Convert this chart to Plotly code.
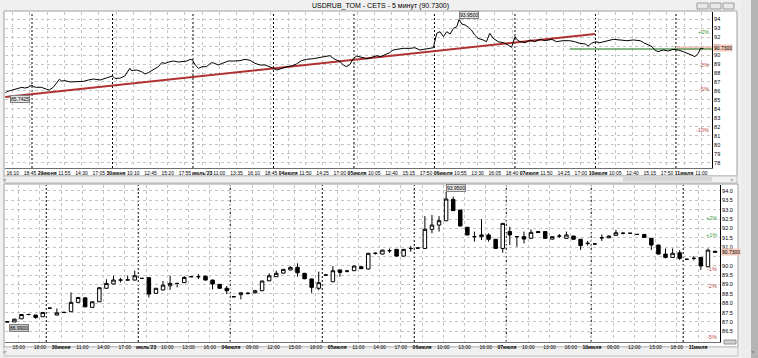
import plotly.graph_objects as go

W, H = 758, 358
FONT = "Liberation Sans Narrow, Liberation Sans, Arial, sans-serif"

# ---------------- top panel: 5-minute line (bar number, 144 bars per session) ----------------
line_bar = [-48, -45, -39, -30, -24, -18, -13, -7, 0, 2, 8, 17, 26, 31, 38, 44, 49, 53, 59, 68,
            80, 92, 101, 110, 122, 131, 140, 144, 148, 157, 166, 172, 175, 178, 187, 196, 202, 208,
            217, 226, 232, 238, 247, 253, 262, 271, 277, 283, 287, 292, 298, 304, 312, 321, 327,
            333, 342, 351, 360, 372, 381, 390, 399, 408, 417, 426, 432, 438, 447, 456, 465, 473,
            482, 491, 503, 515, 524, 533, 539, 545, 551, 557, 563, 569, 575, 581, 590, 599, 608,
            617, 623, 631, 640, 646, 655, 664, 676, 685, 694, 703, 712, 718, 724, 730, 736, 742,
            748, 754, 760, 764, 769, 775, 781, 786, 792, 798, 807, 813, 819, 825, 834, 843, 852,
            858, 864, 867, 873, 882, 891, 899, 909, 918, 930, 938, 950, 962, 971, 980, 990, 995,
            1001, 1008, 1016, 1028, 1040, 1052, 1064, 1076, 1088, 1094, 1103, 1109, 1114, 1120,
            1129, 1138, 1147, 1156, 1165, 1174, 1180, 1186, 1192, 1196, 1201]
line_price = [85.7425, 85.93, 86.04, 86.19, 86.30, 86.41, 86.33, 86.41, 86.67, 86.48, 86.41, 86.41,
              86.19, 86.11, 86.41, 86.85, 87.30, 87.11, 87.15, 87.00, 87.04, 87.07, 87.22, 87.33,
              87.22, 87.37, 87.52, 87.67, 87.41, 87.41, 87.67, 88.33, 88.52, 88.26, 88.33, 88.15,
              87.89, 88.04, 88.33, 88.70, 89.15, 89.07, 89.26, 89.33, 89.22, 89.30, 89.33, 89.52,
              89.44, 88.89, 88.52, 88.70, 88.70, 89.15, 89.07, 88.89, 89.07, 89.33, 89.33, 89.37,
              89.52, 89.41, 89.07, 88.89, 88.89, 88.70, 88.52, 88.33, 88.52, 88.70, 88.78, 89.00,
              89.37, 89.52, 89.59, 89.74, 89.81, 89.93, 89.63, 89.44, 89.26, 88.89, 88.70, 88.96,
              89.63, 89.89, 89.74, 89.59, 89.74, 89.93, 89.81, 90.00, 90.26, 90.56, 90.63, 90.74,
              90.74, 90.81, 90.56, 90.63, 90.74, 90.81, 92.41, 92.59, 92.04, 92.59, 92.33, 92.96,
              93.15, 93.95, 93.44, 93.33, 93.07, 92.78, 92.22, 91.85, 91.67, 91.48, 92.41, 91.85,
              91.48, 91.37, 91.11, 90.85, 92.04, 91.74, 91.48, 91.37, 91.67, 91.48, 91.74, 91.59,
              91.74, 91.48, 91.59, 91.59, 91.48, 91.30, 91.22, 91.00, 91.30, 91.48, 91.37, 91.59,
              91.74, 91.67, 91.59, 91.67, 91.59, 91.37, 91.11, 90.93, 90.56, 90.37, 90.56, 90.44,
              90.63, 90.56, 90.37, 90.19, 90.00, 89.81, 90.19, 90.74, 90.73]
trend_bar = [-48, 1007]
trend_price = [85.33, 92.33]
support_bar = [962, 1216]
support_price = [90.67, 90.67]
top_day_start = [0, 144, 288, 432, 576, 720, 864, 1008, 1152]
top_tick_text = ["16:10", "18:45", "<b>29июня</b>", "11:55", "14:30", "17:05", "<b>30июня</b>", "10:10",
                 "12:45", "15:20", "17:55", "<b>июль'23</b>", "11:00", "13:35", "16:10", "18:45",
                 "<b>04июля</b>", "11:50", "14:25", "17:00", "<b>05июля</b>", "10:05", "12:40", "15:15",
                 "17:50", "<b>06июля</b>", "10:55", "13:30", "16:05", "18:40", "<b>07июля</b>", "11:50",
                 "14:25", "17:00", "<b>10июля</b>", "10:05", "12:40", "15:15", "17:50", "<b>11июля</b>",
                 "11:00"]
TOP_TICK0, TOP_TICK_STEP = -34.5, 30.8
top_price_ticks = list(range(78, 95))
top_pct_levels = [2, -2, -5, -10]

# ---------------- bottom panel: hourly candles ----------------
c_open = [87.02, 87.00, 87.17, 87.40, 87.37, 87.28,
          87.74, 87.37, 87.51, 87.55, 88.05, 88.29, 87.78, 88.08, 88.80, 89.03, 89.24, 89.24, 89.24,
          89.33, 89.37, 88.53, 88.71, 88.93, 89.06, 89.10, 89.42, 89.42, 89.45, 89.24, 89.01, 88.80,
          88.35, 88.46, 88.53, 88.56, 88.67, 89.20, 89.42, 89.61, 89.78, 89.92, 89.60, 89.30, 88.80,
          89.51, 89.15, 89.78, 89.72, 89.74, 89.95, 89.83, 90.67, 90.63, 90.81, 90.88, 90.52, 90.93,
          90.95, 90.93, 91.95, 92.18, 92.41, 93.55, 92.98, 92.06, 91.56, 91.56, 91.65, 91.42, 90.93,
          91.83, 91.56, 91.56, 91.47, 91.83, 91.83, 91.43, 91.59, 91.47, 91.59, 91.42, 91.20,
          91.17, 91.50, 91.50, 91.63, 91.74, 91.74, 91.68, 91.68, 91.47, 91.11, 90.63, 90.45, 90.70,
          90.35, 90.40, 90.45, 89.95, 90.78]
c_high = [87.04, 87.17, 87.42, 87.44, 87.38, 87.53,
          87.76, 87.72, 87.55, 88.58, 88.33, 88.31, 88.10, 88.85, 89.28, 89.47, 89.36, 89.47, 89.74,
          89.35, 89.39, 88.82, 89.19, 89.47, 89.08, 89.45, 89.44, 89.56, 89.47, 89.26, 89.03, 88.92,
          88.37, 88.58, 88.60, 88.72, 89.21, 89.60, 89.74, 89.83, 89.97, 90.13, 89.62, 89.32, 89.69,
          89.53, 89.99, 89.80, 89.78, 90.01, 89.97, 90.69, 90.72, 90.86, 90.93, 90.90, 90.90, 91.06,
          90.97, 92.66, 92.72, 92.66, 93.95, 93.70, 93.00, 92.08, 91.83, 92.49, 91.74, 91.44, 92.29,
          92.09, 91.60, 91.83, 91.95, 91.85, 91.85, 91.58, 91.70, 91.83, 91.61, 91.44, 91.33,
          91.19, 91.68, 91.62, 91.92, 91.80, 91.76, 91.70, 91.70, 91.49, 91.13, 90.93, 90.93, 90.84,
          90.37, 90.52, 90.47, 90.93, 90.80]
c_low = [86.99, 87.00, 87.15, 87.36, 87.17, 87.27,
         87.72, 87.36, 87.47, 87.53, 88.03, 87.79, 87.76, 88.06, 88.78, 89.01, 89.11, 89.22, 89.22,
         89.31, 88.31, 88.51, 88.69, 88.71, 88.85, 89.08, 89.40, 89.29, 89.22, 88.74, 88.78, 88.49,
         88.33, 88.21, 88.46, 88.52, 88.65, 89.18, 89.40, 89.59, 89.76, 89.42, 89.29, 88.56, 88.70,
         89.49, 89.13, 89.42, 89.65, 89.72, 89.83, 89.81, 90.60, 90.61, 90.70, 90.50, 90.50, 90.76,
         90.93, 90.91, 91.74, 91.83, 92.39, 92.93, 92.11, 91.63, 91.29, 91.38, 91.29, 90.91, 90.70,
         91.11, 91.02, 91.20, 91.45, 91.76, 91.45, 91.41, 91.50, 91.45, 91.40, 90.85, 91.08,
         91.15, 91.33, 91.48, 91.61, 91.68, 91.72, 91.66, 91.50, 90.85, 90.61, 90.40, 90.43, 90.31,
         90.33, 90.29, 89.78, 89.93, 90.71]
c_close = [87.00, 87.15, 87.40, 87.40, 87.24, 87.51,
           87.74, 87.49, 87.51, 88.05, 88.31, 87.81, 88.08, 88.83, 89.06, 89.24, 89.24, 89.25, 89.47,
           89.33, 88.49, 88.80, 88.97, 89.06, 89.06, 89.38, 89.42, 89.42, 89.24, 89.03, 88.80, 88.67,
           88.35, 88.56, 88.53, 88.67, 89.19, 89.47, 89.60, 89.81, 89.92, 89.63, 89.31, 88.85, 89.10,
           89.51, 89.74, 89.65, 89.72, 89.99, 89.85, 90.67, 90.67, 90.84, 90.81, 90.52, 90.88, 90.93,
           90.95, 91.95, 92.18, 92.41, 93.57, 92.95, 92.13, 91.65, 91.56, 91.65, 91.42, 90.93, 92.27,
           91.65, 91.56, 91.43, 91.79, 91.78, 91.47, 91.56, 91.59, 91.65, 91.42, 91.08, 91.20,
           91.17, 91.50, 91.59, 91.77, 91.74, 91.74, 91.68, 91.52, 91.11, 90.63, 90.45, 90.67, 90.40,
           90.35, 90.40, 89.99, 90.84, 90.73]
candle_idx = list(range(len(c_open)))
bot_day_start = [5.5, 18.5, 31.5, 44.5, 57.5, 70.5, 82.5, 95.5]
bot_tick_text = ["15:00", "18:00", "<b>30июня</b>", "11:00", "14:00", "17:00", "<b>июль'23</b>", "10:00",
                 "13:00", "16:00", "<b>04июля</b>", "09:00", "12:00", "15:00", "18:00", "<b>05июля</b>",
                 "11:00", "14:00", "17:00", "<b>06июля</b>", "10:00", "13:00", "16:00", "<b>07июля</b>",
                 "10:00", "13:00", "16:00", "<b>10июля</b>", "09:00", "12:00", "15:00", "18:00",
                 "<b>11июля</b>"]
BOT_TICK0, BOT_TICK_STEP = 1.6, 3
bot_price_ticks = [86.5 + 0.5 * i for i in range(16)]
bot_pct_levels = [2, 1, -1, -2, -5]

LAST = c_close[-1]


def px(p):
    return p / W


def py(p):
    return 1 - p / H


fig = go.Figure()

# top traces
fig.add_trace(go.Scatter(x=trend_bar, y=trend_price, mode="lines",
                         line=dict(color="#b03232", width=2), xaxis="x", yaxis="y", hoverinfo="skip"))
fig.add_trace(go.Scatter(x=support_bar, y=support_price, mode="lines",
                         line=dict(color="#5f9f5f", width=1.5), xaxis="x", yaxis="y", hoverinfo="skip"))
fig.add_trace(go.Scatter(x=line_bar, y=line_price, mode="lines",
                         line=dict(color="black", width=1), xaxis="x", yaxis="y"))

# bottom candles
fig.add_trace(go.Candlestick(x=candle_idx, open=c_open, high=c_high, low=c_low, close=c_close,
                             increasing=dict(line=dict(color="black", width=1), fillcolor="white"),
                             decreasing=dict(line=dict(color="black", width=1), fillcolor="black"),
                             xaxis="x2", yaxis="y2"))

tickfont = dict(family=FONT, size=5, color="black")
ytickfont = dict(family=FONT, size=5.5, color="black")
grid = dict(showgrid=True, gridcolor="#c4c4c4", griddash="dot", gridwidth=1, zeroline=False)

top_tickvals = [TOP_TICK0 + k * TOP_TICK_STEP for k in range(len(top_tick_text))]
bot_tickvals = [BOT_TICK0 + k * BOT_TICK_STEP for k in range(len(bot_tick_text))]
# price-axis labels hidden behind the last-price tag
top_ytext = ["" if abs(v - LAST) < 0.2 else str(v) for v in top_price_ticks]
bot_ytext = ["" if abs(v - LAST) < 0.25 else f"{v:.1f}" for v in bot_price_ticks]

fig.update_layout(
    width=W, height=H, margin=dict(l=0, r=0, t=0, b=0, autoexpand=False),
    paper_bgcolor="#f0f0f0", plot_bgcolor="white", showlegend=False,
    font=dict(family=FONT, size=6, color="black"),
    xaxis=dict(domain=[px(5), px(712)], anchor="y", range=[-48.3, 1216.5],
               tickmode="array", tickvals=top_tickvals, ticktext=top_tick_text, tickangle=0,
               tickfont=tickfont, ticks="", showline=True, linecolor="#707070", automargin=False,
               fixedrange=True, **grid),
    yaxis=dict(domain=[py(168), py(12)], anchor="x", side="right", range=[77.44, 94.78],
               tickmode="array", tickvals=top_price_ticks, ticktext=top_ytext,
               tickfont=ytickfont, ticks="", showline=True, linecolor="black", automargin=False,
               fixedrange=True, **grid),
    xaxis2=dict(domain=[px(5), px(720)], anchor="y2", range=[-0.33, 100.7],
                tickmode="array", tickvals=bot_tickvals, ticktext=bot_tick_text, tickangle=0,
                tickfont=tickfont, ticks="", showline=True, linecolor="#707070", automargin=False,
                rangeslider=dict(visible=False), fixedrange=True, **grid),
    yaxis2=dict(domain=[py(342), py(185)], anchor="x2", side="right", range=[85.93, 94.32],
                tickmode="array", tickvals=bot_price_ticks, ticktext=bot_ytext,
                tickfont=ytickfont, ticks="", showline=True, linecolor="black", automargin=False,
                fixedrange=True, **grid),
)

shapes = []
# window frames
shapes.append(dict(type="rect", xref="paper", yref="paper", x0=px(4), x1=px(737), y0=py(176), y1=py(11),
                   fillcolor="white", line=dict(color="#a0a0a0", width=1), layer="below"))
shapes.append(dict(type="rect", xref="paper", yref="paper", x0=px(4), x1=px(737), y0=py(183), y1=py(176),
                   fillcolor="#f0f0f0", line=dict(color="#c0c0c0", width=1), layer="below"))
shapes.append(dict(type="rect", xref="paper", yref="paper", x0=px(623), x1=px(712), y0=py(181.5), y1=py(177),
                   fillcolor="#d6d6d6", line=dict(width=0), layer="below"))
shapes.append(dict(type="rect", xref="paper", yref="paper", x0=px(4), x1=px(738), y0=py(347), y1=py(184),
                   fillcolor="white", line=dict(color="#a0a0a0", width=1), layer="below"))
shapes.append(dict(type="rect", xref="paper", yref="paper", x0=px(4), x1=px(738), y0=py(356), y1=py(347),
                   fillcolor="#f0f0f0", line=dict(color="#c0c0c0", width=1), layer="below"))
shapes.append(dict(type="rect", xref="paper", yref="paper", x0=px(724), x1=px(736), y0=py(344), y1=py(340),
                   fillcolor="#d0d0d0", line=dict(color="#909090", width=1), layer="below"))
shapes.append(dict(type="rect", xref="paper", yref="paper", x0=px(741), x1=px(758), y0=0, y1=1,
                   fillcolor="#ececec", line=dict(width=0), layer="below"))
shapes.append(dict(type="rect", xref="paper", yref="paper", x0=px(751), x1=px(758), y0=0, y1=1,
                   fillcolor="#b4b4b4", line=dict(width=0), layer="below"))
for bx in (697, 710, 723):
    shapes.append(dict(type="rect", xref="paper", yref="paper", x0=px(bx), x1=px(bx + 11), y0=py(9), y1=py(3),
                       fillcolor="#e8e8e8", line=dict(color="#9a9a9a", width=1), layer="below"))

# last price band in top panel
shapes.append(dict(type="rect", xref="x", yref="y", x0=top_day_start[-1], x1=1216.5,
                   y0=LAST - 0.2, y1=LAST + 0.22, fillcolor="#f5c9bb", line=dict(width=0), layer="below"))

# session separators
for d in top_day_start:
    shapes.append(dict(type="line", xref="x", yref="paper", x0=d, x1=d, y0=py(168), y1=py(12),
                       line=dict(color="black", width=1, dash="2px,2px"), layer="below"))
for d in bot_day_start:
    shapes.append(dict(type="line", xref="x2", yref="paper", x0=d, x1=d, y0=py(342), y1=py(185),
                       line=dict(color="black", width=1, dash="2px,2px"), layer="below"))

fig.update_layout(shapes=shapes)

ann = []
ann.append(dict(xref="paper", yref="paper", x=px(380), y=py(6), text=f"USDRUB_TOM - CETS - 5 минут ({LAST:.4f})",
                showarrow=False, font=dict(family=FONT, size=7, color="black"), xanchor="center", yanchor="middle"))
for sx, sy, t in ((5, 179.5, "<"), (732, 179.5, ">"), (5, 352, "<"), (753, 352, ">")):
    ann.append(dict(xref="paper", yref="paper", x=px(sx), y=py(sy), text=t, showarrow=False,
                    font=dict(family=FONT, size=6, color="#555555"), xanchor="center", yanchor="middle"))

# percent levels
for p in top_pct_levels:
    ann.append(dict(xref="paper", yref="y", x=px(711), y=LAST * (1 + p / 100), text=f"{p:+d}%",
                    showarrow=False, xanchor="right", yanchor="middle",
                    font=dict(family=FONT, size=5.5, color="#3c9a3c" if p > 0 else "#b84848")))
for p in bot_pct_levels:
    ann.append(dict(xref="paper", yref="y2", x=px(719), y=LAST * (1 + p / 100), text=f"{p:+d}%",
                    showarrow=False, xanchor="right", yanchor="middle",
                    font=dict(family=FONT, size=5.5, color="#3c9a3c" if p > 0 else "#b84848")))

# last price labels
ann.append(dict(xref="paper", yref="y", x=px(712.5), y=LAST, text=f"{LAST:.4f}", showarrow=False,
                xanchor="left", yanchor="middle", bgcolor="#f5c9bb", borderpad=0,
                font=dict(family=FONT, size=5, color="black")))
ann.append(dict(xref="paper", yref="y2", x=px(720.5), y=LAST, text=f"{LAST:.4f}", showarrow=False,
                xanchor="left", yanchor="middle", bgcolor="#f5c9bb", borderpad=0,
                font=dict(family=FONT, size=5, color="black")))

# extreme labels
imax = line_price.index(max(line_price))
imin = line_price.index(min(line_price))
ann.append(dict(xref="x", yref="y", x=line_bar[imax], y=max(line_price), text=f"{max(line_price):.4f}",
                showarrow=False, xanchor="left", yanchor="bottom", bgcolor="#e4e4e4", bordercolor="#808080",
                borderwidth=1, borderpad=0, font=dict(family=FONT, size=5, color="black")))
ann.append(dict(xref="x", yref="y", x=line_bar[imin] + 8, y=min(line_price) - 0.2, text=f"{min(line_price):.4f}",
                showarrow=False, xanchor="left", yanchor="top", bgcolor="#e4e4e4", bordercolor="#808080",
                borderwidth=1, borderpad=0, font=dict(family=FONT, size=5, color="black")))
jmax = c_high.index(max(c_high))
jmin = c_low.index(min(c_low))
ann.append(dict(xref="x2", yref="y2", x=candle_idx[jmax], y=max(c_high), text=f"{max(c_high):.4f}",
                showarrow=False, xanchor="left", yanchor="bottom", bgcolor="#e4e4e4", bordercolor="#808080",
                borderwidth=1, borderpad=0, font=dict(family=FONT, size=5, color="black")))
ann.append(dict(xref="x2", yref="y2", x=candle_idx[jmin] + 0.2, y=min(c_low) - 0.12, text=f"{min(c_low):.4f}",
                showarrow=False, xanchor="left", yanchor="top", bgcolor="#c8c8c8", bordercolor="#808080",
                borderwidth=1, borderpad=0, font=dict(family=FONT, size=5, color="black")))

fig.update_layout(annotations=ann)
fig.write_html("out.html", config={"displayModeBar": False},
               post_script="document.body.style.margin='0';document.body.style.overflow='hidden';")
